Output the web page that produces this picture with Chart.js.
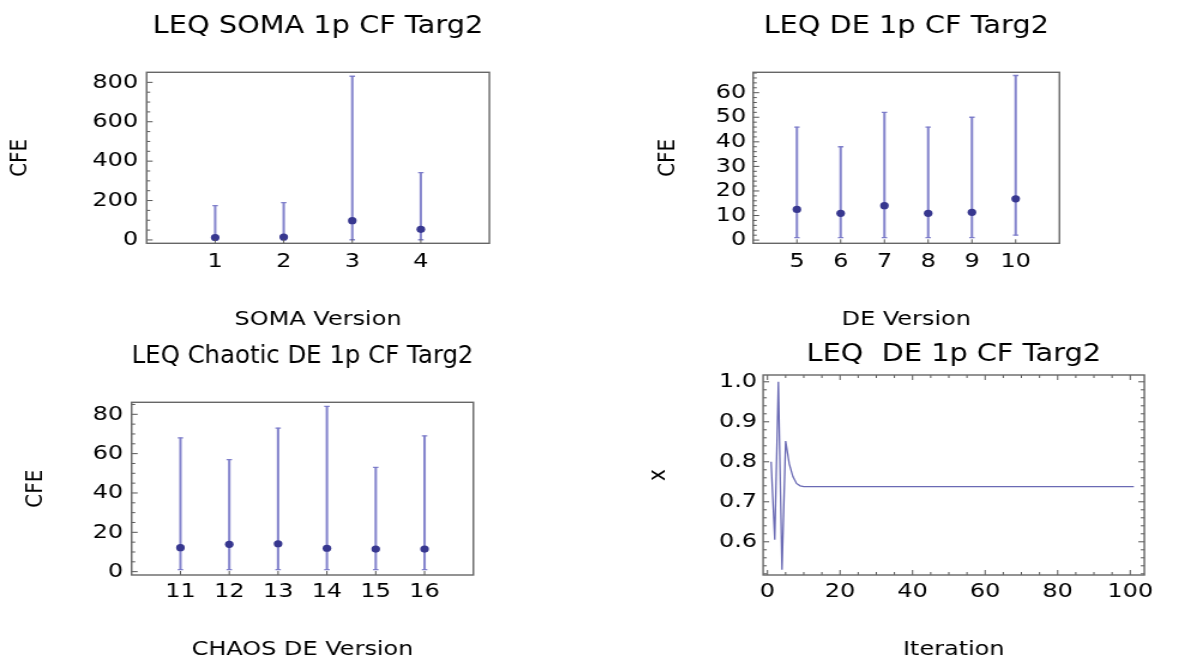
<!DOCTYPE html>
<html>
<head>
<meta charset="utf-8">
<title>LEQ CF Targ2</title>
<script src="https://cdn.jsdelivr.net/npm/chart.js@4.4.1/dist/chart.umd.min.js"></script>
<style>
  body { margin: 0; background: #fff; }
  #wrap { position: relative; width: 1185px; height: 660px; overflow: hidden; }
  #wrap canvas { position: absolute; }
</style>
</head>
<body>
<div id="wrap">
  <canvas id="somaChart"></canvas>
  <canvas id="deChart"></canvas>
  <canvas id="chaosChart"></canvas>
  <canvas id="iterChart"></canvas>
</div>
<script>
// ---- data ----
const somaVersions = [1, 2, 3, 4];
const somaMedian = [12, 15, 98, 54];
const somaLow = [1, 1, 1, 1];
const somaHigh = [174, 189, 831, 342];
const somaTicks = [0, 200, 400, 600, 800];

const deVersions = [5, 6, 7, 8, 9, 10];
const deMedian = [12.5, 10.9, 14.0, 10.9, 11.3, 16.8];
const deLow = [1, 1, 1, 1, 1, 2];
const deHigh = [46, 38, 52, 46, 50, 67];
const deTicks = [0, 10, 20, 30, 40, 50, 60];

const chaosVersions = [11, 12, 13, 14, 15, 16];
const chaosMedian = [12.2, 13.9, 14.2, 11.9, 11.5, 11.5];
const chaosLow = [1, 1, 1, 1, 1, 1];
const chaosHigh = [68, 57, 73, 84, 53, 69];
const chaosTicks = [0, 20, 40, 60, 80];

const iterations = [1, 2, 3, 4, 5, 6, 7, 8, 9, 10, 11, 12, 13, 14, 15, 16, 17, 18, 19, 20,
  21, 22, 23, 24, 25, 26, 27, 28, 29, 30, 31, 32, 33, 34, 35, 36, 37, 38, 39, 40,
  41, 42, 43, 44, 45, 46, 47, 48, 49, 50, 51, 52, 53, 54, 55, 56, 57, 58, 59, 60,
  61, 62, 63, 64, 65, 66, 67, 68, 69, 70, 71, 72, 73, 74, 75, 76, 77, 78, 79, 80,
  81, 82, 83, 84, 85, 86, 87, 88, 89, 90, 91, 92, 93, 94, 95, 96, 97, 98, 99, 100, 101];
const iterX = [0.800, 0.605, 1.000, 0.530, 0.852, 0.795, 0.763, 0.746, 0.740, 0.738,
  0.738, 0.738, 0.738, 0.738, 0.738, 0.738, 0.738, 0.738, 0.738, 0.738,
  0.738, 0.738, 0.738, 0.738, 0.738, 0.738, 0.738, 0.738, 0.738, 0.738,
  0.738, 0.738, 0.738, 0.738, 0.738, 0.738, 0.738, 0.738, 0.738, 0.738,
  0.738, 0.738, 0.738, 0.738, 0.738, 0.738, 0.738, 0.738, 0.738, 0.738,
  0.738, 0.738, 0.738, 0.738, 0.738, 0.738, 0.738, 0.738, 0.738, 0.738,
  0.738, 0.738, 0.738, 0.738, 0.738, 0.738, 0.738, 0.738, 0.738, 0.738,
  0.738, 0.738, 0.738, 0.738, 0.738, 0.738, 0.738, 0.738, 0.738, 0.738,
  0.738, 0.738, 0.738, 0.738, 0.738, 0.738, 0.738, 0.738, 0.738, 0.738,
  0.738, 0.738, 0.738, 0.738, 0.738, 0.738, 0.738, 0.738, 0.738, 0.738, 0.738];
const iterXTicks = [0, 20, 40, 60, 80, 100];
const iterYTicks = [0.6, 0.7, 0.8, 0.9, 1.0];

// ---- look ----
const STRETCH = 1.2; // the original picture is stretched sideways
const tickFont = { family: "'DejaVu Sans', sans-serif", size: 20, lineHeight: 1 };
const labelFont = { family: "'DejaVu Sans', sans-serif", size: 20, lineHeight: 1 };
const titleFont = { family: "'DejaVu Sans', sans-serif", size: 24, lineHeight: 1 };
const barColor = "rgba(120, 120, 200, 0.9)";
const dotColor = "#37378f";
const lineColor = "#6a6ab4";

Chart.defaults.color = "#000";
Chart.defaults.font.family = "'DejaVu Sans', sans-serif";

// frame with inward tick marks, like the original plots
function marks(scale, minor, majorLen) {
  const out = scale.ticks.map((t) => [t.value, majorLen]);
  if (minor) {
    const k0 = Math.ceil(scale.min / minor - 1e-6);
    const k1 = Math.floor(scale.max / minor + 1e-6);
    for (let k = k0; k <= k1; k++) {
      const v = k * minor;
      if (!out.some((m) => Math.abs(m[0] - v) < minor / 10)) out.push([v, 3]);
    }
  }
  return out;
}

const framePlugin = {
  id: "frame",
  afterDatasetsDraw(chart, args, opts) {
    const { ctx, chartArea: a } = chart;
    const xs = chart.scales.x;
    const ys = chart.scales.y;
    ctx.save();
    ctx.strokeStyle = "#555";
    ctx.lineWidth = 1;
    ctx.beginPath();
    marks(ys, opts.yMinor, 5).forEach(([v, len]) => {
      const p = ys.getPixelForValue(v);
      ctx.moveTo(a.left, p);
      ctx.lineTo(a.left + len, p);
      if (opts.mirror) {
        ctx.moveTo(a.right, p);
        ctx.lineTo(a.right - len, p);
      }
    });
    marks(xs, opts.xMinor, opts.xMajorLen).forEach(([v, len]) => {
      const p = xs.getPixelForValue(v);
      ctx.moveTo(p, a.bottom);
      ctx.lineTo(p, a.bottom - len);
      if (opts.mirror) {
        ctx.moveTo(p, a.top);
        ctx.lineTo(p, a.top + len);
      }
    });
    ctx.stroke();
    ctx.strokeStyle = "#666";
    ctx.lineWidth = 1.4;
    ctx.strokeRect(a.left, a.top, a.right - a.left, a.bottom - a.top);
    ctx.restore();
  },
};

// put a canvas on the page; its bitmap is narrower and stretched by CSS
function place(canvas, box) {
  canvas.width = Math.round(box.w / STRETCH);
  canvas.height = box.h;
  canvas.style.left = box.x + "px";
  canvas.style.top = box.y + "px";
  canvas.style.width = box.w + "px";
  canvas.style.height = box.h + "px";
}

function makeOptions(L, cfg) {
  const s = STRETCH;
  const bottomEdge = L.box.y + L.box.h;
  return {
    responsive: false,
    animation: false,
    layout: { padding: { left: 0, top: 0, bottom: 0, right: (L.box.x + L.box.w - L.area.r) / s } },
    plugins: {
      legend: { display: false },
      tooltip: { enabled: false },
      frame: { yMinor: cfg.yMinor, xMinor: cfg.xMinor, xMajorLen: cfg.xMajorLen, mirror: cfg.mirror },
    },
    scales: {
      x: {
        type: "linear",
        position: "bottom",
        min: cfg.xMin,
        max: cfg.xMax,
        offset: false,
        grid: { display: false, drawTicks: false },
        border: { display: false },
        afterBuildTicks: (sc) => { sc.ticks = cfg.xTicks.map((v) => ({ value: v })); },
        afterFit: (sc) => { sc.height = bottomEdge - L.area.b; },
        ticks: {
          autoSkip: false,
          maxRotation: 0,
          font: tickFont,
          color: "#000",
          padding: L.xTickY - L.area.b - tickFont.size / 2,
        },
        title: {
          display: true,
          text: cfg.xTitle,
          font: labelFont,
          color: "#000",
          padding: { top: 0, bottom: bottomEdge - L.xLabelY - labelFont.size / 2 },
        },
      },
      top: {
        type: "linear",
        position: "top",
        grid: { display: false, drawTicks: false },
        border: { display: false },
        ticks: { display: false },
        afterFit: (sc) => { sc.height = L.area.t - L.box.y; },
        title: {
          display: true,
          text: cfg.title,
          font: titleFont,
          color: "#000",
          padding: { top: L.titleY - L.box.y - titleFont.size / 2, bottom: 0 },
        },
      },
      y: {
        type: "linear",
        position: "left",
        min: cfg.yMin,
        max: cfg.yMax,
        grid: { display: false, drawTicks: false },
        border: { display: false },
        afterBuildTicks: (sc) => { sc.ticks = cfg.yTicks.map((v) => ({ value: v })); },
        afterFit: (sc) => { sc.width = (L.area.l - L.box.x) / s; },
        ticks: {
          autoSkip: false,
          font: tickFont,
          color: "#000",
          padding: L.yTickGap / s,
          callback: cfg.yFormat || ((v) => String(v)),
        },
        title: {
          display: true,
          text: cfg.yTitle,
          font: labelFont,
          color: "#000",
          padding: { top: (L.yLabelX - L.box.x) / s - labelFont.size / 2, bottom: 0 },
        },
      },
    },
  };
}

function errorChart(id, L, cfg, versions, median, low, high) {
  const canvas = document.getElementById(id);
  place(canvas, L.box);
  return new Chart(canvas, {
    type: "scatter",
    data: {
      datasets: [
        {
          type: "scatter",
          label: "median",
          data: versions.map((v, i) => ({ x: v, y: median[i] })),
          pointStyle: "circle",
          pointRadius: 3.6,
          backgroundColor: dotColor,
          borderWidth: 0,
          order: 0,
        },
        {
          type: "scatter",
          label: "caps",
          data: versions.map((v, i) => ({ x: v, y: high[i] }))
            .concat(versions.map((v, i) => ({ x: v, y: low[i] }))),
          pointStyle: "line",
          pointRadius: 2.3,
          borderColor: barColor,
          borderWidth: 1.3,
          order: 1,
        },
        {
          type: "bar",
          label: "range",
          data: versions.map((v, i) => ({ x: v, y: [low[i], high[i]] })),
          backgroundColor: barColor,
          borderWidth: 0,
          barThickness: 1.4,
          order: 2,
        },
      ],
    },
    options: makeOptions(L, cfg),
    plugins: [framePlugin],
  });
}

errorChart("somaChart",
  { box: { x: 0, y: 0, w: 590, h: 330 }, area: { l: 146.7, r: 489.3, t: 72.3, b: 243.3 },
    titleY: 27, xLabelY: 320, yLabelX: 20, yTickGap: 8.4, xTickY: 261.7 },
  { title: "LEQ SOMA 1p CF Targ2", xTitle: "SOMA Version", yTitle: "CFE",
    xMin: 0, xMax: 5, xTicks: somaVersions, yMin: -17, yMax: 851, yTicks: somaTicks,
    yMinor: 50, xMinor: null, xMajorLen: 4, mirror: false },
  somaVersions, somaMedian, somaLow, somaHigh);

errorChart("deChart",
  { box: { x: 600, y: 0, w: 585, h: 330 }, area: { l: 753.3, r: 1059.3, t: 72.3, b: 243.3 },
    titleY: 27, xLabelY: 320, yLabelX: 668, yTickGap: 7, xTickY: 261.7 },
  { title: "LEQ DE 1p CF Targ2", xTitle: "DE Version", yTitle: "CFE",
    xMin: 4, xMax: 11, xTicks: deVersions, yMin: -1.3, yMax: 68.3, yTicks: deTicks,
    yMinor: 2, xMinor: null, xMajorLen: 4, mirror: false },
  deVersions, deMedian, deLow, deHigh);

errorChart("chaosChart",
  { box: { x: 0, y: 330, w: 590, h: 330 }, area: { l: 131.7, r: 473.3, t: 402.3, b: 575 },
    titleY: 356.7, xLabelY: 650, yLabelX: 36, yTickGap: 8.4, xTickY: 591.7 },
  { title: "LEQ Chaotic DE 1p CF Targ2", xTitle: "CHAOS DE Version", yTitle: "CFE",
    xMin: 10, xMax: 17, xTicks: chaosVersions, yMin: -1.7, yMax: 86.1, yTicks: chaosTicks,
    yMinor: 5, xMinor: null, xMajorLen: 4, mirror: false },
  chaosVersions, chaosMedian, chaosLow, chaosHigh);

// iteration trace
(function () {
  const L = { box: { x: 600, y: 330, w: 585, h: 330 }, area: { l: 763.3, r: 1144.3, t: 375, b: 575 },
    titleY: 355, xLabelY: 650, yLabelX: 658, yTickGap: 6, xTickY: 591.7 };
  const cfg = { title: "LEQ  DE 1p CF Targ2", xTitle: "Iteration", yTitle: "x",
    xMin: -1.2, xMax: 103.9, xTicks: iterXTicks, yMin: 0.517, yMax: 1.017, yTicks: iterYTicks,
    yMinor: 0.02, xMinor: 5, xMajorLen: 5, mirror: true,
    yFormat: (v) => v.toFixed(1) };
  const canvas = document.getElementById("iterChart");
  place(canvas, L.box);
  new Chart(canvas, {
    type: "line",
    data: {
      datasets: [{
        label: "x",
        data: iterations.map((it, i) => ({ x: it, y: iterX[i] })),
        borderColor: lineColor,
        borderWidth: 1.3,
        pointRadius: 0,
        tension: 0,
        fill: false,
      }],
    },
    options: makeOptions(L, cfg),
    plugins: [framePlugin],
  });
})();
</script>
</body>
</html>
